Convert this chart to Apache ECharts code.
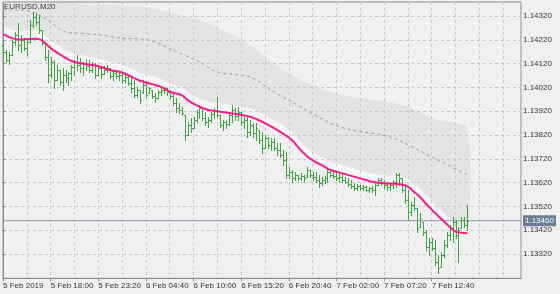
<!DOCTYPE html>
<html><head><meta charset="utf-8">
<script src="https://cdn.jsdelivr.net/npm/echarts@6/dist/echarts.min.js"></script>
<style>html,body{margin:0;padding:0;background:#f0f0f0}#c{width:560px;height:294px}</style>
</head><body><div id="c"></div>
<script>
// ---- data (20-minute bars, bar 0 = 5 Feb 2019 12:40) ----
const timeLabels = ['5 Feb 2019','5 Feb 18:00','5 Feb 23:20','6 Feb 04:40','6 Feb 10:00','6 Feb 15:20','6 Feb 20:40','7 Feb 02:00','7 Feb 07:20','7 Feb 12:40'];
const labelBars = [0,16,32,48,64,80,96,112,128,144];
const priceTicks = [1.13320,1.13420,1.13520,1.13620,1.13720,1.13820,1.13920,1.14020,1.14120,1.14220,1.14320];
const lastPrice = 1.13460;

const open = [
1.14198,1.14169,1.14135,1.14156,1.14211,1.14240,1.14198,1.14219,1.14185,1.14211,
1.14282,1.14316,1.14295,1.14261,1.14206,1.14148,1.14072,1.14127,1.14051,1.14093,
1.14043,1.14072,1.14059,1.14080,1.14106,1.14127,1.14114,1.14101,1.14118,1.14110,
1.14093,1.14114,1.14072,1.14101,1.14076,1.14093,1.14101,1.14068,1.14080,1.14068,
1.14072,1.14051,1.14064,1.14038,1.14017,1.13988,1.14009,1.14001,1.14030,1.13996,
1.14009,1.13984,1.13975,1.14001,1.14009,1.14017,1.14001,1.13984,1.13954,1.13933,
1.13925,1.13904,1.13820,1.13862,1.13849,1.13883,1.13917,1.13933,1.13891,1.13875,
1.13883,1.13908,1.13925,1.13904,1.13862,1.13875,1.13866,1.13904,1.13925,1.13900,
1.13917,1.13875,1.13883,1.13833,1.13862,1.13828,1.13841,1.13799,1.13765,1.13807,
1.13778,1.13791,1.13765,1.13757,1.13736,1.13715,1.13652,1.13665,1.13639,1.13652,
1.13639,1.13648,1.13644,1.13673,1.13652,1.13644,1.13631,1.13618,1.13631,1.13639,
1.13665,1.13652,1.13648,1.13639,1.13644,1.13631,1.13623,1.13614,1.13606,1.13597,
1.13606,1.13597,1.13602,1.13589,1.13597,1.13589,1.13610,1.13631,1.13618,1.13610,
1.13602,1.13610,1.13623,1.13652,1.13639,1.13589,1.13547,1.13497,1.13526,1.13513,
1.13434,1.13455,1.13413,1.13350,1.13371,1.13345,1.13287,1.13266,1.13316,1.13358,
1.13400,1.13429,1.13455,1.13400,1.13429,1.13463,1.13442];
const high = [
1.14211,1.14177,1.14169,1.14219,1.14253,1.14290,1.14240,1.14227,1.14219,1.14303,
1.14337,1.14332,1.14324,1.14261,1.14206,1.14177,1.14148,1.14135,1.14114,1.14093,
1.14101,1.14093,1.14085,1.14114,1.14135,1.14156,1.14143,1.14127,1.14135,1.14135,
1.14127,1.14122,1.14114,1.14101,1.14110,1.14114,1.14101,1.14093,1.14093,1.14085,
1.14085,1.14080,1.14072,1.14059,1.14051,1.14022,1.14009,1.14051,1.14038,1.14022,
1.14009,1.13996,1.14009,1.14017,1.14022,1.14017,1.14009,1.13996,1.13975,1.13954,
1.13938,1.13904,1.13875,1.13891,1.13896,1.13925,1.13946,1.13938,1.13917,1.13896,
1.13917,1.13933,1.13980,1.13904,1.13883,1.13883,1.13917,1.13946,1.13933,1.13938,
1.13917,1.13904,1.13896,1.13883,1.13870,1.13870,1.13841,1.13833,1.13820,1.13812,
1.13807,1.13807,1.13786,1.13786,1.13757,1.13749,1.13686,1.13673,1.13665,1.13652,
1.13660,1.13652,1.13686,1.13673,1.13665,1.13665,1.13652,1.13644,1.13648,1.13681,
1.13673,1.13665,1.13665,1.13660,1.13660,1.13644,1.13639,1.13631,1.13618,1.13614,
1.13610,1.13610,1.13606,1.13602,1.13606,1.13618,1.13639,1.13639,1.13631,1.13623,
1.13618,1.13631,1.13660,1.13660,1.13639,1.13610,1.13589,1.13539,1.13560,1.13513,
1.13492,1.13455,1.13421,1.13387,1.13387,1.13379,1.13316,1.13329,1.13379,1.13413,
1.13442,1.13476,1.13463,1.13434,1.13476,1.13476,1.13526];
const low = [
1.14156,1.14127,1.14118,1.14156,1.14198,1.14177,1.14169,1.14177,1.14156,1.14211,
1.14274,1.14282,1.14248,1.14198,1.14135,1.14043,1.14064,1.14017,1.14051,1.14030,
1.14009,1.14043,1.14030,1.14051,1.14072,1.14093,1.14085,1.14072,1.14093,1.14085,
1.14085,1.14059,1.14072,1.14059,1.14076,1.14085,1.14059,1.14051,1.14059,1.14051,
1.14038,1.14043,1.14030,1.14001,1.13980,1.13980,1.13954,1.13996,1.13980,1.13996,
1.13975,1.13959,1.13975,1.13988,1.13996,1.13988,1.13975,1.13946,1.13917,1.13912,
1.13904,1.13799,1.13820,1.13833,1.13849,1.13875,1.13891,1.13883,1.13862,1.13854,
1.13875,1.13891,1.13896,1.13854,1.13841,1.13849,1.13862,1.13875,1.13883,1.13883,
1.13862,1.13849,1.13812,1.13820,1.13812,1.13799,1.13786,1.13744,1.13765,1.13765,
1.13757,1.13757,1.13736,1.13728,1.13694,1.13639,1.13639,1.13623,1.13631,1.13631,
1.13631,1.13627,1.13644,1.13644,1.13631,1.13623,1.13602,1.13610,1.13618,1.13623,
1.13644,1.13639,1.13631,1.13627,1.13623,1.13618,1.13606,1.13597,1.13589,1.13589,
1.13589,1.13589,1.13585,1.13581,1.13581,1.13568,1.13610,1.13610,1.13597,1.13589,
1.13589,1.13597,1.13602,1.13610,1.13581,1.13534,1.13463,1.13484,1.13505,1.13413,
1.13434,1.13400,1.13337,1.13316,1.13337,1.13274,1.13240,1.13266,1.13308,1.13350,
1.13379,1.13371,1.13387,1.13287,1.13429,1.13434,1.13421];
const close = [
1.14169,1.14135,1.14156,1.14211,1.14240,1.14198,1.14219,1.14185,1.14211,1.14282,
1.14316,1.14295,1.14261,1.14206,1.14148,1.14072,1.14127,1.14051,1.14093,1.14043,
1.14072,1.14059,1.14080,1.14106,1.14127,1.14114,1.14101,1.14118,1.14110,1.14093,
1.14114,1.14072,1.14101,1.14076,1.14093,1.14101,1.14068,1.14080,1.14068,1.14072,
1.14051,1.14064,1.14038,1.14017,1.13988,1.14009,1.13967,1.14030,1.13988,1.14017,
1.13984,1.13975,1.14001,1.14009,1.14017,1.14001,1.13984,1.13954,1.13933,1.13925,
1.13912,1.13820,1.13862,1.13849,1.13883,1.13917,1.13933,1.13891,1.13875,1.13883,
1.13908,1.13925,1.13904,1.13862,1.13875,1.13866,1.13904,1.13925,1.13900,1.13917,
1.13875,1.13883,1.13833,1.13862,1.13828,1.13849,1.13799,1.13765,1.13807,1.13778,
1.13791,1.13765,1.13757,1.13736,1.13715,1.13652,1.13665,1.13639,1.13652,1.13639,
1.13648,1.13639,1.13673,1.13652,1.13644,1.13631,1.13618,1.13631,1.13639,1.13665,
1.13652,1.13648,1.13639,1.13644,1.13631,1.13623,1.13614,1.13606,1.13597,1.13606,
1.13597,1.13602,1.13589,1.13597,1.13589,1.13610,1.13631,1.13618,1.13610,1.13602,
1.13610,1.13623,1.13652,1.13639,1.13589,1.13547,1.13497,1.13526,1.13513,1.13429,
1.13471,1.13413,1.13350,1.13371,1.13345,1.13287,1.13261,1.13316,1.13358,1.13400,
1.13429,1.13455,1.13400,1.13421,1.13463,1.13442,1.13460];

// moving average (magenta) read at these bars
const maBars = [0,3,5,8,11,13,16,20,23,26,30,33,36,40,46,53,56,60,62,66,69,73,77,83,87,93,97,100,103,108,110,114,120,124,128,133,136,138,140,143,147,150,152,156];
const maVals = [1.14244,1.14227,1.14221,1.14223,1.14225,1.14219,1.14185,1.14152,1.14131,1.14122,1.14114,1.14106,1.14093,1.14083,1.14048,1.14023,1.14002,1.13988,1.13967,1.13939,1.13925,1.13918,1.13911,1.13897,1.13876,1.13834,1.13799,1.13757,1.13722,1.13687,1.13673,1.13659,1.13638,1.13624,1.13617,1.13614,1.13603,1.13582,1.13561,1.13519,1.13470,1.13435,1.13414,1.13407];
// lower edge of the shaded band (just above the MA), same bars
const bandLowVals = [1.14278,1.14261,1.14255,1.14257,1.14259,1.14253,1.14219,1.14186,1.14165,1.14156,1.14148,1.14140,1.14127,1.14117,1.14082,1.14057,1.14036,1.14022,1.14001,1.13973,1.13959,1.13952,1.13945,1.13931,1.13910,1.13868,1.13833,1.13791,1.13756,1.13721,1.13707,1.13693,1.13672,1.13658,1.13651,1.13648,1.13637,1.13616,1.13595,1.13553,1.13504,1.13469,1.13448,1.13441];
// upper edge of the shaded band
const bandUpBars = [0,15,23,33,43,50,66,77,83,90,100,110,120,130,137,146,156];
const bandUpVals = [1.14429,1.14387,1.14374,1.14366,1.14362,1.14353,1.14303,1.14240,1.14198,1.14127,1.14051,1.14001,1.13975,1.13959,1.13933,1.13883,1.13849];
// dashed middle line
const midBars = [0,6,10,15,21,25,33,40,49,57,66,72,83,90,97,110,117,130,144,156];
const midVals = [1.14345,1.14345,1.14337,1.14303,1.14253,1.14248,1.14240,1.14227,1.14219,1.14177,1.14127,1.14085,1.14064,1.14009,1.13959,1.13870,1.13841,1.13812,1.13728,1.13652];

const barData = open.map((o, i) => [i, o, high[i], low[i], close[i]]);
const pairs = (xs, ys) => xs.map((x, i) => [x, ys[i]]);
const X_MAX = 174;

const chart = echarts.init(document.getElementById('c'), null, {renderer: 'canvas'});
const FONT = 'Liberation Sans';
const GRIDC = '#c9c9c9';

function polyItem(topX, topY, botX, botY, fill) {
  return function (params, api) {
    const pts = [];
    for (let i = 0; i < topX.length; i++) pts.push(api.coord([topX[i], topY[i]]));
    for (let i = botX.length - 1; i >= 0; i--) pts.push(api.coord([botX[i], botY[i]]));
    const cs = params.coordSys;
    return {
      type: 'group',
      clipPath: {type: 'rect', shape: {x: cs.x, y: cs.y, width: cs.width, height: cs.height}},
      children: [{type: 'polygon', shape: {points: pts, smooth: 0.25}, style: {fill: fill}}]
    };
  };
}

function renderBar(params, api) {
  const x = api.value(0);
  const o = api.coord([x, api.value(1)]);
  const h = api.coord([x, api.value(2)]);
  const l = api.coord([x, api.value(3)]);
  const c = api.coord([x, api.value(4)]);
  const px = Math.round(o[0]) + 0.5;
  const col = '#3fa63f';
  const oy = Math.round(o[1]) + 0.5, cy = Math.round(c[1]) + 0.5;
  return {
    type: 'group',
    children: [
      {type: 'line', shape: {x1: px, y1: Math.round(h[1]), x2: px, y2: Math.round(l[1]) + 1}, style: {stroke: col, lineWidth: 1}},
      {type: 'line', shape: {x1: px - 1.5, y1: oy, x2: px - 0.5, y2: oy}, style: {stroke: col, lineWidth: 1}},
      {type: 'line', shape: {x1: px + 0.5, y1: cy, x2: px + 1.5, y2: cy}, style: {stroke: col, lineWidth: 1}}
    ]
  };
}

chart.setOption({
  animation: false,
  backgroundColor: '#f0f0f0',
  textStyle: {fontFamily: FONT},
  grid: {left: 1.5, right: 39, top: 2, bottom: 15.7, show: true, borderColor: '#8c8c8c', borderWidth: 1, backgroundColor: 'transparent'},
  graphic: [{type: 'text', left: 4, top: 3, z: 10, style: {text: 'EURUSD,M20', fill: '#3a3a3a', font: '8px "Liberation Sans"'}}],
  xAxis: [{
    type: 'value', min: 0, max: X_MAX, position: 'bottom',
    axisLine: {show: true, lineStyle: {color: '#8c8c8c'}},
    axisTick: {show: true, customValues: labelBars, length: 3, lineStyle: {color: '#8c8c8c'}},
    axisLabel: {customValues: labelBars, align: 'left', margin: 3, fontSize: 8, color: '#333', fontFamily: FONT,
      formatter: v => timeLabels[labelBars.indexOf(Math.round(v))] || ''},
    splitLine: {show: false}
  }, {
    type: 'value', min: 0, max: X_MAX, interval: 8, position: 'bottom',
    axisLine: {show: false}, axisTick: {show: false}, axisLabel: {show: false},
    splitLine: {show: true, lineStyle: {color: GRIDC, type: [3, 3], width: 1}}
  }],
  yAxis: {
    type: 'value', position: 'right', min: 1.13218, max: 1.14379, scale: true,
    axisLine: {show: true, lineStyle: {color: '#8c8c8c'}},
    axisTick: {show: true, customValues: priceTicks, length: 3, lineStyle: {color: '#8c8c8c'}},
    axisLabel: {customValues: priceTicks, margin: 2, fontSize: 8, color: '#333', fontFamily: FONT, formatter: v => v.toFixed(5)},
    splitLine: {show: true, lineStyle: {color: GRIDC, type: [3, 3], width: 1}}
  },
  series: [
    {type: 'custom', name: 'band', z: -1, silent: true, data: [0],
     renderItem: polyItem(bandUpBars, bandUpVals, maBars, maVals, '#e4e4e4')},
    {type: 'custom', name: 'strip', z: -1, silent: true, data: [0],
     renderItem: polyItem(maBars, bandLowVals, maBars, maVals, '#f6f6f6')},
    {type: 'line', name: 'mid', data: pairs(midBars, midVals), smooth: 0.3, symbol: 'none', z: 1,
     lineStyle: {color: '#a0a0a0', width: 1, type: [3, 3]}},
    {type: 'line', name: 'price', data: [[0, lastPrice], [X_MAX, lastPrice]], symbol: 'none', z: 2, silent: true,
     lineStyle: {color: '#8d9aab', width: 1},
     endLabel: {show: true, distance: 2, formatter: () => lastPrice.toFixed(5),
       backgroundColor: '#6b7e93', color: '#fff', fontSize: 8, fontFamily: FONT, padding: [2, 2, 1, 2]}},
    {type: 'custom', name: 'bars', data: barData, renderItem: renderBar, encode: {x: 0, y: [1, 2, 3, 4]}, z: 3},
    {type: 'line', name: 'MA', data: pairs(maBars, maVals), smooth: 0.3, symbol: 'none', z: 5,
     lineStyle: {color: '#ff1a8c', width: 2}}
  ]
});
</script></body></html>
